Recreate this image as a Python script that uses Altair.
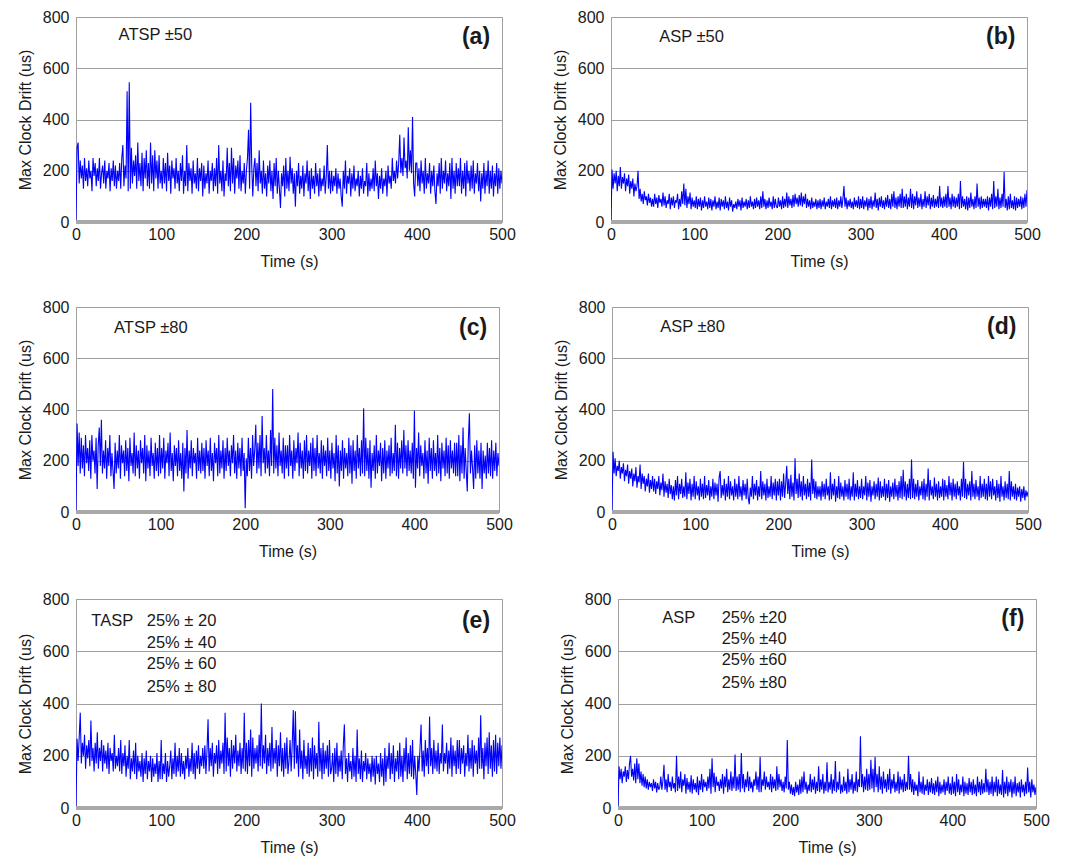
import altair as alt
import pandas as pd

# sample times (s), one sample every 1.25 s
STEP = 1.25
time_s = [k * STEP for k in range(401)]

# (a) ATSP ±50
drift_a = [
    0, 290, 310, 150, 240, 170, 220, 130, 250, 160, 210, 140, 240, 170, 200, 120, 250, 180, 230, 140,
    210, 160, 250, 130, 190, 220, 150, 240, 130, 200, 170, 230, 120, 210, 160, 240, 140, 220, 130, 200,
    160, 230, 130, 250, 300, 140, 220, 170, 510, 120, 545, 130, 290, 150, 240, 180, 260, 130, 310, 160,
    230, 140, 270, 120, 250, 170, 280, 140, 230, 130, 310, 150, 260, 120, 280, 170, 240, 130, 260, 150,
    200, 130, 250, 150, 230, 120, 270, 160, 220, 110, 240, 170, 210, 130, 250, 150, 200, 120, 230, 160,
    260, 110, 200, 140, 300, 120, 230, 160, 210, 110, 240, 150, 190, 130, 250, 120, 210, 160, 230, 100,
    220, 130, 190, 150, 240, 110, 200, 160, 230, 120, 210, 140, 250, 110, 300, 150, 200, 120, 240, 100,
    190, 160, 290, 140, 230, 120, 290, 150, 250, 110, 220, 170, 240, 130, 260, 120, 200, 150, 230, 110,
    200, 250, 360, 130, 465, 220, 100, 210, 250, 140, 230, 120, 280, 150, 200, 110, 240, 130, 190, 100,
    220, 150, 240, 120, 200, 90, 230, 140, 250, 110, 200, 130, 55, 190, 140, 220, 100, 250, 130, 200,
    120, 255, 150, 210, 110, 190, 60, 200, 140, 230, 110, 180, 130, 220, 100, 190, 150, 240, 120, 200,
    90, 210, 130, 180, 110, 230, 140, 190, 100, 210, 120, 170, 140, 220, 110, 180, 300, 130, 200, 110,
    200, 120, 180, 140, 210, 110, 190, 130, 170, 100, 60, 200, 130, 240, 110, 180, 150, 210, 100, 190,
    130, 220, 120, 170, 140, 200, 100, 180, 130, 210, 110, 160, 140, 230, 100, 190, 120, 170, 130, 210,
    120, 240, 140, 190, 90, 180, 130, 210, 110, 170, 140, 200, 100, 220, 150, 180, 130, 250, 160, 200,
    150, 240, 170, 230, 340, 190, 250, 180, 330, 210, 240, 170, 370, 200, 280, 190, 410, 150, 100, 230,
    230, 140, 210, 120, 240, 150, 200, 110, 250, 130, 190, 150, 230, 110, 200, 140, 220, 120, 70, 190,
    140, 230, 110, 250, 130, 200, 150, 240, 120, 190, 140, 230, 90, 250, 130, 200, 110, 230, 140, 210,
    140, 250, 110, 200, 130, 230, 100, 240, 150, 200, 120, 220, 130, 240, 110, 190, 150, 230, 120, 200,
    80, 190, 130, 230, 110, 200, 140, 240, 110, 200, 130, 220, 100, 190, 140, 230, 110, 210, 130, 200,
    150,
]

# (b) ASP ±50
drift_b = [
    0, 205, 130, 190, 150, 200, 120, 180, 140, 215, 130, 175, 150, 190, 120, 170, 140, 185, 110, 160,
    130, 170, 100, 150, 120, 140, 200, 90, 130, 80, 110, 70, 120, 85, 100, 65, 110, 75, 95, 60,
    90, 60, 110, 70, 95, 55, 105, 75, 90, 60, 115, 65, 100, 55, 85, 70, 110, 50, 95, 65,
    100, 55, 85, 75, 110, 50, 90, 60, 120, 70, 150, 65, 130, 55, 100, 70, 115, 50, 95, 60,
    85, 55, 100, 50, 90, 60, 95, 45, 85, 55, 100, 60, 80, 50, 95, 55, 90, 45, 85, 60,
    100, 50, 80, 55, 95, 45, 90, 60, 85, 50, 100, 55, 80, 45, 95, 60, 85, 40, 70, 55,
    80, 50, 90, 60, 85, 45, 95, 55, 80, 60, 90, 50, 85, 55, 100, 60, 80, 50, 90, 55,
    95, 60, 85, 50, 100, 55, 120, 60, 90, 50, 85, 55, 95, 60, 80, 50, 100, 55, 90, 60,
    55, 95, 60, 85, 50, 100, 55, 90, 60, 115, 55, 100, 65, 90, 55, 105, 60, 110, 70, 95,
    60, 105, 65, 115, 60, 100, 70, 110, 55, 90, 60, 85, 50, 95, 55, 80, 60, 90, 50, 85,
    55, 90, 50, 85, 60, 95, 50, 80, 60, 90, 55, 100, 50, 85, 60, 90, 55, 95, 50, 85,
    60, 100, 55, 90, 140, 60, 95, 50, 85, 60, 90, 55, 80, 50, 95, 60, 85, 55, 100, 50,
    90, 55, 100, 50, 85, 60, 95, 45, 90, 55, 100, 50, 85, 60, 115, 55, 90, 45, 95, 60,
    100, 55, 85, 50, 95, 60, 105, 55, 90, 50, 110, 60, 120, 55, 95, 50, 100, 60, 110, 55,
    130, 55, 100, 60, 110, 50, 95, 60, 130, 55, 110, 50, 100, 65, 120, 55, 95, 60, 110, 50,
    90, 60, 120, 55, 100, 65, 110, 50, 95, 60, 105, 55, 90, 60, 100, 55, 140, 60, 95, 55,
    100, 60, 110, 55, 140, 60, 95, 50, 110, 60, 100, 55, 95, 60, 110, 50, 160, 55, 100, 60,
    90, 50, 100, 45, 95, 55, 115, 60, 90, 50, 100, 55, 150, 60, 95, 50, 100, 55, 90, 60,
    90, 55, 100, 45, 95, 60, 110, 50, 160, 55, 100, 60, 130, 50, 95, 55, 110, 60, 195, 55,
    90, 45, 100, 50, 110, 55, 85, 50, 100, 45, 95, 55, 90, 60, 100, 50, 95, 55, 110, 60,
    125,
]

# (c) ATSP ±80
drift_c = [
    0, 345, 180, 310, 150, 290, 170, 260, 140, 300, 190, 250, 160, 280, 130, 300, 200, 240, 150, 290,
    90, 260, 330, 180, 360, 150, 240, 170, 280, 130, 250, 180, 300, 140, 230, 160, 90, 270, 150, 240,
    170, 300, 130, 260, 190, 240, 140, 280, 160, 250, 120, 290, 180, 230, 150, 310, 140, 260, 170, 240,
    130, 280, 190, 250, 150, 300, 120, 260, 170, 240, 140, 290, 180, 230, 130, 270, 160, 250, 140, 300,
    150, 250, 170, 290, 130, 240, 190, 270, 140, 310, 160, 230, 120, 260, 180, 250, 140, 280, 160, 230,
    130, 270, 80, 250, 150, 320, 130, 240, 170, 280, 140, 250, 190, 230, 130, 290, 160, 240, 150, 270,
    160, 250, 130, 280, 180, 240, 140, 290, 160, 230, 120, 270, 190, 250, 140, 300, 150, 240, 170, 280,
    130, 250, 160, 290, 180, 240, 140, 260, 190, 300, 150, 240, 130, 270, 170, 250, 140, 290, 160, 230,
    15, 210, 140, 290, 160, 250, 130, 300, 180, 240, 340, 150, 270, 170, 300, 140, 375, 190, 250, 150,
    300, 170, 240, 140, 320, 180, 480, 150, 290, 170, 260, 140, 310, 180, 240, 150, 290, 130, 260, 170,
    260, 140, 300, 180, 240, 130, 280, 160, 250, 190, 310, 140, 270, 170, 240, 130, 280, 160, 300, 150,
    240, 180, 270, 130, 290, 160, 250, 140, 300, 170, 230, 150, 280, 130, 260, 180, 240, 140, 290, 160,
    240, 130, 270, 170, 230, 120, 300, 150, 260, 100, 240, 160, 280, 130, 250, 170, 230, 140, 290, 150,
    260, 110, 280, 160, 240, 130, 300, 170, 250, 140, 280, 150, 405, 140, 290, 160, 250, 130, 280, 95,
    230, 160, 260, 130, 300, 150, 240, 180, 270, 120, 250, 150, 280, 130, 240, 170, 260, 140, 290, 150,
    230, 160, 340, 140, 270, 130, 250, 170, 280, 150, 320, 170, 260, 140, 280, 160, 240, 150, 270, 130,
    395, 95, 250, 170, 310, 140, 260, 180, 230, 130, 280, 150, 240, 110, 290, 160, 250, 130, 280, 160,
    230, 140, 300, 150, 250, 120, 270, 170, 240, 140, 290, 150, 260, 130, 280, 170, 240, 150, 270, 140,
    270, 140, 300, 120, 260, 150, 330, 130, 250, 160, 80, 280, 385, 150, 240, 170, 90, 260, 130, 280,
    150, 240, 130, 270, 90, 240, 150, 220, 130, 270, 150, 250, 140, 280, 130, 240, 160, 270, 140, 230,
    180,
]

# (d) ASP ±80
drift_d = [
    0, 235, 150, 210, 140, 180, 160, 200, 130, 175, 150, 190, 120, 165, 140, 185, 110, 160, 130, 170,
    100, 150, 120, 175, 95, 140, 115, 185, 90, 150, 110, 140, 80, 130, 100, 150, 75, 125, 90, 140,
    80, 130, 70, 120, 90, 140, 65, 115, 85, 150, 60, 120, 75, 110, 55, 130, 70, 105, 50, 100,
    45, 125, 65, 140, 50, 110, 70, 130, 55, 100, 60, 155, 50, 115, 70, 130, 45, 110, 60, 140,
    50, 120, 65, 100, 45, 130, 60, 110, 50, 140, 55, 105, 65, 125, 45, 100, 60, 130, 50, 115,
    65, 110, 40, 135, 160, 55, 105, 65, 130, 45, 110, 60, 140, 50, 120, 65, 100, 45, 130, 60,
    110, 50, 140, 60, 100, 45, 125, 65, 110, 50, 130, 55, 30, 95, 60, 140, 50, 110, 65, 125,
    45, 100, 60, 160, 50, 120, 65, 110, 45, 130, 55, 100, 60, 140, 50, 115, 65, 130, 45, 120,
    65, 130, 45, 120, 60, 150, 55, 110, 180, 70, 130, 50, 145, 60, 115, 45, 210, 70, 130, 55,
    150, 60, 120, 45, 140, 65, 110, 50, 130, 60, 115, 45, 205, 70, 130, 55, 120, 50, 100, 60,
    100, 45, 120, 60, 110, 50, 130, 65, 100, 45, 155, 50, 110, 65, 130, 40, 100, 55, 140, 50,
    115, 60, 100, 45, 125, 60, 110, 50, 130, 45, 100, 60, 155, 45, 110, 60, 125, 50, 100, 55,
    130, 50, 100, 65, 140, 45, 115, 60, 125, 40, 100, 65, 120, 50, 110, 60, 135, 45, 120, 55,
    100, 60, 130, 45, 110, 55, 125, 40, 100, 60, 115, 50, 130, 60, 105, 45, 120, 55, 140, 50,
    165, 60, 120, 45, 110, 55, 130, 50, 205, 55, 130, 50, 110, 60, 125, 45, 100, 65, 120, 50,
    130, 45, 110, 60, 170, 45, 125, 65, 100, 50, 135, 60, 110, 45, 120, 55, 100, 60, 130, 45,
    125, 60, 105, 50, 140, 65, 115, 45, 130, 60, 110, 50, 120, 65, 100, 45, 130, 60, 195, 55,
    130, 50, 110, 65, 120, 45, 160, 60, 110, 50, 125, 60, 100, 45, 140, 55, 110, 60, 130, 50,
    110, 45, 140, 60, 120, 50, 130, 65, 100, 45, 125, 55, 110, 40, 140, 60, 100, 45, 120, 55,
    110, 50, 160, 45, 120, 60, 100, 50, 110, 45, 95, 60, 100, 40, 90, 55, 100, 45, 85, 60,
    80,
]

# (e) TASP 25% ±20/40/60/80
drift_e = [
    0, 265, 180, 270, 365, 170, 250, 200, 280, 150, 240, 190, 260, 160, 335, 180, 230, 140, 250, 170,
    290, 150, 230, 180, 260, 140, 240, 170, 220, 150, 250, 130, 230, 180, 210, 140, 280, 150, 200, 160,
    230, 140, 260, 130, 210, 160, 240, 120, 200, 150, 260, 110, 190, 140, 220, 130, 250, 110, 200, 140,
    180, 120, 210, 100, 190, 130, 220, 110, 180, 140, 200, 100, 190, 120, 170, 130, 210, 100, 180, 110,
    260, 110, 170, 130, 210, 100, 180, 120, 160, 220, 110, 190, 130, 250, 120, 200, 140, 230, 120, 210,
    130, 180, 110, 200, 150, 230, 120, 190, 140, 250, 130, 210, 110, 220, 150, 240, 130, 200, 160, 230,
    150, 240, 130, 220, 340, 140, 230, 160, 250, 120, 210, 170, 240, 130, 260, 150, 220, 170, 250, 130,
    365, 140, 270, 160, 230, 120, 260, 150, 240, 170, 280, 140, 220, 160, 250, 130, 230, 150, 365, 140,
    250, 130, 260, 160, 300, 120, 270, 150, 230, 170, 240, 140, 280, 160, 400, 150, 240, 170, 280, 130,
    230, 160, 250, 140, 310, 150, 230, 170, 260, 120, 240, 160, 290, 140, 230, 120, 250, 150, 270, 130,
    180, 260, 140, 240, 375, 150, 370, 170, 240, 120, 300, 150, 220, 110, 260, 150, 200, 130, 250, 120,
    230, 140, 270, 110, 240, 150, 210, 120, 330, 140, 230, 110, 250, 130, 220, 150, 240, 120, 260, 130,
    150, 210, 100, 230, 130, 250, 120, 200, 140, 220, 110, 240, 320, 130, 190, 100, 210, 140, 180, 110,
    230, 120, 200, 100, 300, 130, 190, 110, 220, 100, 180, 140, 210, 110, 190, 130, 170, 100, 200, 120,
    190, 90, 200, 130, 170, 100, 210, 120, 190, 85, 230, 100, 200, 150, 250, 110, 210, 130, 240, 100,
    190, 140, 220, 110, 250, 120, 200, 100, 230, 140, 270, 110, 210, 130, 240, 120, 260, 110, 200, 130,
    50, 200, 140, 230, 320, 140, 220, 120, 260, 160, 230, 130, 350, 160, 230, 130, 260, 150, 220, 140,
    250, 130, 210, 170, 320, 140, 210, 170, 250, 130, 220, 150, 270, 120, 240, 160, 220, 130, 260, 150,
    260, 130, 230, 170, 240, 120, 210, 160, 280, 140, 230, 150, 260, 120, 240, 170, 220, 130, 270, 150,
    355, 150, 230, 110, 250, 160, 270, 130, 290, 150, 240, 120, 260, 140, 280, 130, 250, 160, 270, 150,
    240,
]

# (f) ASP 25% ±20/40/60/80
drift_f = [
    0, 160, 110, 150, 95, 140, 120, 160, 100, 145, 110, 170, 200, 120, 150, 105, 170, 95, 190, 110,
    170, 95, 140, 85, 130, 80, 120, 75, 110, 70, 100, 80, 95, 65, 110, 75, 100, 60, 95, 70,
    80, 120, 70, 105, 165, 70, 110, 60, 130, 80, 100, 65, 120, 75, 95, 60, 200, 65, 120, 75,
    140, 60, 110, 85, 130, 55, 115, 70, 100, 60, 125, 55, 110, 70, 95, 60, 120, 50, 105, 70,
    130, 60, 110, 80, 100, 65, 120, 75, 150, 55, 190, 80, 135, 60, 120, 85, 100, 65, 110, 75,
    130, 55, 120, 80, 150, 60, 110, 70, 140, 65, 120, 75, 205, 65, 120, 70, 130, 60, 210, 75,
    130, 60, 110, 80, 140, 65, 120, 75, 100, 60, 110, 85, 140, 70, 120, 60, 195, 60, 110, 85,
    140, 70, 120, 80, 100, 70, 130, 60, 120, 75, 110, 65, 160, 70, 130, 80, 110, 65, 100, 60,
    120, 75, 260, 70, 100, 55, 90, 50, 80, 45, 100, 60, 90, 50, 110, 55, 120, 60, 140, 70,
    100, 55, 90, 65, 130, 60, 110, 70, 120, 55, 100, 65, 160, 60, 110, 70, 130, 55, 100, 65,
    175, 60, 100, 70, 130, 55, 110, 65, 180, 60, 100, 70, 140, 55, 90, 60, 120, 65, 100, 55,
    150, 60, 110, 70, 130, 55, 100, 65, 140, 60, 110, 80, 275, 80, 130, 60, 120, 70, 150, 65,
    130, 70, 185, 75, 150, 60, 195, 80, 130, 60, 160, 70, 120, 55, 140, 75, 110, 60, 130, 70,
    150, 55, 110, 75, 130, 60, 100, 65, 140, 55, 120, 70, 110, 60, 130, 65, 100, 70, 200, 70,
    130, 60, 110, 50, 100, 65, 90, 45, 140, 60, 100, 55, 120, 50, 90, 65, 110, 50, 100, 60,
    115, 55, 95, 50, 105, 60, 120, 45, 100, 55, 90, 60, 110, 50, 100, 65, 120, 55, 95, 50,
    120, 55, 100, 45, 130, 60, 110, 50, 90, 60, 120, 45, 100, 55, 95, 50, 115, 60, 100, 50,
    110, 55, 90, 45, 120, 60, 100, 50, 110, 55, 95, 60, 150, 60, 110, 50, 100, 55, 120, 45,
    100, 60, 120, 45, 110, 55, 90, 50, 145, 40, 100, 55, 120, 45, 100, 60, 110, 40, 100, 55,
    120, 45, 95, 60, 100, 40, 110, 60, 90, 45, 100, 55, 155, 60, 100, 40, 110, 60, 90, 50,
    80,
]

# annotations: (time, value, text)
notes_a = [(50, 730, "ATSP ±50")]
notes_b = [(58, 722, "ASP ±50")]
notes_c = [(45, 718, "ATSP ±80")]
notes_d = [(58, 722, "ASP ±80")]
notes_e = [(18, 716, "TASP"), (83, 716, "25% ± 20"), (83, 632, "25% ± 40"),
           (83, 551, "25% ± 60"), (83, 463, "25% ± 80")]
notes_f = [(53, 728, "ASP"), (124, 728, "25% ±20"), (124, 647, "25% ±40"),
           (124, 565, "25% ±60"), (124, 479, "25% ±80")]
tags = ["(a)", "(b)", "(c)", "(d)", "(e)", "(f)"]
tag_time = 486
tag_value = [722, 722, 718, 722, 716, 722]

x_ticks = [0, 100, 200, 300, 400, 500]
y_ticks = [0, 200, 400, 600, 800]

FONT = "Liberation Sans"
BLUE = "#0000ff"
GRID = "#a0a0a0"
INK = "#1a1a1a"

for name, arr in [("a", drift_a), ("b", drift_b), ("c", drift_c),
                  ("d", drift_d), ("e", drift_e), ("f", drift_f)]:
    assert len(arr) == len(time_s), (name, len(arr))


def panel(vals, notes, tag, tag_v, width, height):
    df = pd.DataFrame({"t": time_s, "v": vals})
    x = alt.X("t:Q", scale=alt.Scale(domain=[0, 500], nice=False, zero=False),
              axis=alt.Axis(values=x_ticks, title="Time (s)", grid=False, ticks=False,
                            domain=False, labelFlush=False, labelPadding=4,
                            titlePadding=11, format="d"))
    y = alt.Y("v:Q", scale=alt.Scale(domain=[0, 800], nice=False),
              axis=alt.Axis(values=y_ticks, title="Max Clock Drift (us)", grid=True,
                            gridColor=GRID, gridWidth=1, ticks=False, domain=False,
                            labelPadding=7, titlePadding=9, format="d"))
    line = alt.Chart(df).mark_line(color=BLUE, strokeWidth=1.1, clip=True,
                                   strokeJoin="miter", strokeMiterLimit=2).encode(x=x, y=y)
    base = alt.Chart(pd.DataFrame({"t": [0, 500], "v": [0, 0]})).mark_line(
        color="#a9a9a9", strokeWidth=4).encode(x="t:Q", y="v:Q")
    ndf = pd.DataFrame({"t": [n[0] for n in notes], "v": [n[1] for n in notes],
                        "s": [n[2] for n in notes]})
    txt = alt.Chart(ndf).mark_text(align="left", baseline="middle", fontSize=16.5,
                                   font=FONT, color=INK).encode(
        x="t:Q", y="v:Q", text="s:N")
    tdf = pd.DataFrame({"t": [tag_time], "v": [tag_v], "s": [tag]})
    tg = alt.Chart(tdf).mark_text(align="right", baseline="middle", fontSize=23,
                                  fontWeight="bold", font=FONT, color=INK).encode(
        x="t:Q", y="v:Q", text="s:N")
    return alt.layer(line, base, txt, tg).properties(width=width, height=height)


pa = panel(drift_a, notes_a, tags[0], tag_value[0], 426, 205)
pb = panel(drift_b, notes_b, tags[1], tag_value[1], 416, 205)
pc = panel(drift_c, notes_c, tags[2], tag_value[2], 423, 205)
pd_ = panel(drift_d, notes_d, tags[3], tag_value[3], 416, 205)
pe = panel(drift_e, notes_e, tags[4], tag_value[4], 426, 209)
pf = panel(drift_f, notes_f, tags[5], tag_value[5], 418, 209)

chart = alt.vconcat(
    alt.hconcat(pa, pb, spacing=35),
    alt.vconcat(
        alt.hconcat(pc, pd_, spacing=39),
        alt.hconcat(pe, pf, spacing=42),
        spacing=30,
    ),
    spacing=28,
).properties(
    padding={"left": 8, "top": 0, "right": 0, "bottom": 0}
).configure_view(
    stroke=GRID, strokeWidth=1
).configure_axis(
    labelFont=FONT, titleFont=FONT, labelFontSize=16, titleFontSize=16,
    labelColor=INK, titleColor=INK, titleFontWeight="normal"
)

chart.save("out.html", embed_options={"renderer": "svg", "actions": False})
